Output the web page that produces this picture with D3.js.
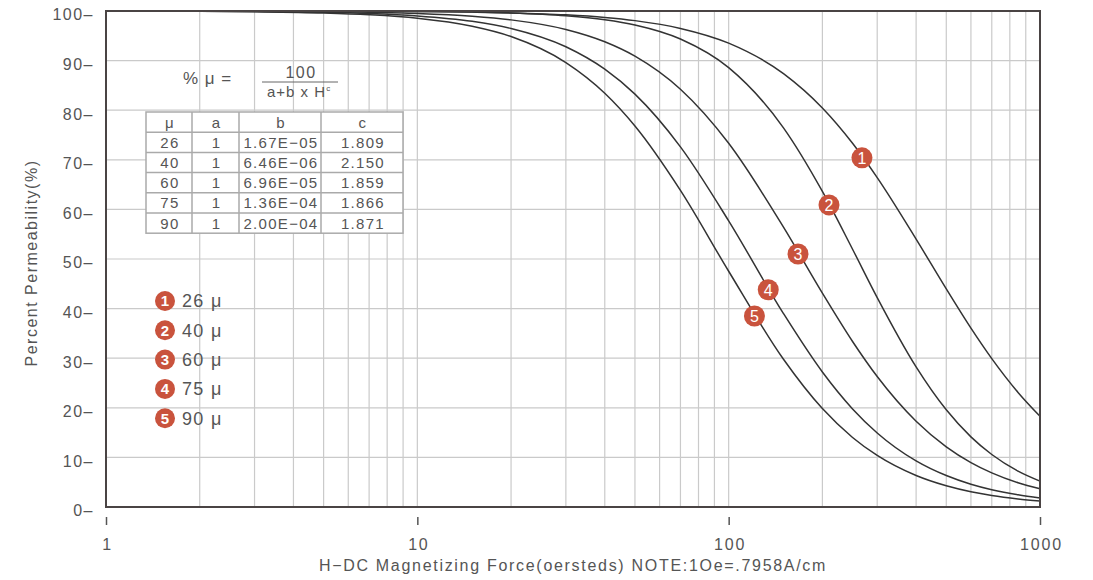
<!DOCTYPE html>
<html lang="en">
	<head>
		<meta charset="utf-8">
		<title>Percent Permeability vs DC Magnetizing Force</title>
		<script type="text/javascript" src="https://d3js.org/d3.v7.min.js"></script>
		<style type="text/css">
			body { margin: 0; background: #fff; }
			text { font-family: "Liberation Sans", Arial, sans-serif; fill: #555; }
		</style>
	</head>
	<body>

		<div id="chart"></div>

		<script type="text/javascript">

    // H values (oersteds) where the curves were read
    var hValues = [1, 2, 3, 5, 7, 10, 15, 20, 30, 40, 50, 70, 100, 150, 200, 250, 300, 400, 500, 600, 700, 850, 1000];

    // percent permeability, one list per material
    var mu26 = [100, 100, 99.99, 99.97, 99.95, 99.89, 99.78, 99.62, 99.22, 98.70, 98.06, 96.49, 93.52, 87.38, 80.45, 73.33, 66.41, 54.01, 43.96, 36.05, 29.91, 23.10, 18.29];
    var mu40 = [100, 100, 99.99, 99.98, 99.96, 99.91, 99.78, 99.60, 99.04, 98.23, 97.18, 94.35, 88.58, 76.44, 63.62, 51.97, 42.23, 28.26, 19.60, 14.14, 10.58, 7.23, 5.21];
    var mu60 = [99.99, 99.98, 99.95, 99.86, 99.74, 99.50, 98.94, 98.21, 96.27, 93.79, 90.89, 84.22, 73.33, 56.41, 43.12, 33.37, 26.30, 17.29, 12.13, 8.95, 6.88, 4.89, 3.67];
    var mu75 = [99.99, 99.95, 99.89, 99.73, 99.49, 99.01, 97.92, 96.49, 92.80, 88.28, 83.24, 72.61, 57.69, 39.00, 27.22, 19.78, 14.93, 9.30, 6.34, 4.59, 3.48, 2.45, 1.82];
    var mu90 = [99.98, 99.93, 99.84, 99.60, 99.24, 98.54, 96.92, 94.85, 89.60, 83.42, 76.82, 63.84, 47.53, 29.78, 19.84, 14.02, 10.39, 6.34, 4.27, 3.07, 2.32, 1.63, 1.20];

    var seriesList = [mu26, mu40, mu60, mu75, mu90];
    var seriesNames = ["26 μ", "40 μ", "60 μ", "75 μ", "90 μ"];

    // numbered markers on the curves
    var markerH = [268, 210, 167, 134, 121];
    var markerPct = [70.4, 60.9, 51.0, 43.8, 38.5];

    // formula table
    var tableHead = ["μ", "a", "b", "c"];
    var tableRows = [
      ["26", "1", "1.67E−05", "1.809"],
      ["40", "1", "6.46E−06", "2.150"],
      ["60", "1", "6.96E−05", "1.859"],
      ["75", "1", "1.36E−04", "1.866"],
      ["90", "1", "2.00E−04", "1.871"]
    ];

    var yTicks = [0, 10, 20, 30, 40, 50, 60, 70, 80, 90, 100];
    var xTicks = [1, 10, 100, 1000];

    drawChart();

    function drawChart(){

        var w = 1093;
        var h = 580;
        var left = 106, right = 1040, top = 11, bottom = 507;
        var red = "#c9533d";

        var svg = d3.select("#chart")
            .append("svg")
            .attr("width", w)
            .attr("height", h);

        var xScale = d3.scaleLog()
          .domain([1, 1000])
          .range([left, right]);

        var yScale = d3.scaleLinear()
          .domain([0, 100])
          .range([bottom, top]);

        // grid
        var minor = [];
        [1, 10, 100].forEach(function(dec){
          for (var k = 2; k <= 9; k++) minor.push(dec * k);
        });
        minor.push(10, 100);

        svg.append("g").selectAll("line")
          .data(minor)
          .enter()
          .append("line")
          .attr("x1", function(d){ return xScale(d); })
          .attr("x2", function(d){ return xScale(d); })
          .attr("y1", top)
          .attr("y2", bottom)
          .style("stroke", "#cacaca")
          .style("stroke-width", 1.2);

        svg.append("g").selectAll("line")
          .data(yTicks.slice(1, -1))
          .enter()
          .append("line")
          .attr("x1", left)
          .attr("x2", right)
          .attr("y1", function(d){ return yScale(d); })
          .attr("y2", function(d){ return yScale(d); })
          .style("stroke", "#cacaca")
          .style("stroke-width", 1.2);

        // curves
        var line = d3.line()
          .x(function(d){ return xScale(d[0]); })
          .y(function(d){ return yScale(d[1]); })
          .curve(d3.curveMonotoneX);

        seriesList.forEach(function(s){
          svg.append("path")
            .datum(hValues.map(function(hv, i){ return [hv, s[i]]; }))
            .attr("d", line)
            .style("fill", "none")
            .style("stroke", "#333")
            .style("stroke-width", 1.5);
        });

        // frame
        svg.append("rect")
          .attr("x", left)
          .attr("y", top)
          .attr("width", right - left)
          .attr("height", bottom - top)
          .style("fill", "none")
          .style("stroke", "#4a4444")
          .style("stroke-width", 2);

        // y axis
        var yAxis = d3.axisLeft(yScale)
          .tickValues(yTicks)
          .tickSize(0)
          .tickPadding(12)
          .tickFormat(function(d){ return d + "–"; });

        var gy = svg.append("g")
          .attr("transform", "translate(" + left + ",0)")
          .call(yAxis);
        gy.select(".domain").remove();
        gy.selectAll("text")
          .attr("dy", "0.55em")
          .style("font-size", "16px")
          .style("letter-spacing", "1.5px")
          .style("fill", "#555");

        // x axis
        var xAxis = d3.axisBottom(xScale)
          .tickValues(xTicks)
          .tickSize(8)
          .tickPadding(14)
          .tickFormat(d3.format("d"));

        var gx = svg.append("g")
          .attr("transform", "translate(0," + (bottom + 10) + ")")
          .call(xAxis);
        gx.select(".domain").remove();
        gx.selectAll("line").style("stroke", "#555").style("stroke-width", 1.5);
        gx.selectAll("text")
          .attr("x", 1)
          .style("font-size", "16px")
          .style("letter-spacing", "1.8px")
          .style("fill", "#555");

        svg.append("text")
          .attr("x", (left + right) / 2)
          .attr("y", 571)
          .attr("text-anchor", "middle")
          .style("font-size", "16px")
          .style("letter-spacing", "1.7px")
          .text("H−DC Magnetizing Force(oersteds) NOTE:1Oe=.7958A/cm");

        svg.append("text")
          .attr("transform", "translate(37," + ((top + bottom) / 2 + 4) + ") rotate(-90)")
          .attr("text-anchor", "middle")
          .style("font-size", "16px")
          .style("letter-spacing", "1.5px")
          .text("Percent Permeability(%)");

        // formula
        svg.append("text")
          .attr("x", 183)
          .attr("y", 84)
          .style("font-size", "17px")
          .style("letter-spacing", "1px")
          .text("% μ =");

        svg.append("text")
          .attr("x", 301)
          .attr("y", 78)
          .attr("text-anchor", "middle")
          .style("font-size", "16px")
          .style("letter-spacing", "1.5px")
          .text("100");

        svg.append("line")
          .attr("x1", 262).attr("x2", 338)
          .attr("y1", 82).attr("y2", 82)
          .style("stroke", "#666")
          .style("stroke-width", 1);

        var den = svg.append("text")
          .attr("x", 267)
          .attr("y", 97)
          .style("font-size", "15px")
          .style("letter-spacing", "1px");
        den.append("tspan").text("a+b x H");
        den.append("tspan").attr("dy", -6).style("font-size", "8px").text("c");

        // table
        var colX = [146, 192, 239, 321, 403];
        var rowY0 = 112, rowH = 20.2;
        var tbl = svg.append("g");
        var allRows = [tableHead].concat(tableRows);

        tbl.append("rect")
          .attr("x", colX[0]).attr("y", rowY0)
          .attr("width", colX[4] - colX[0])
          .attr("height", rowH * allRows.length)
          .style("fill", "#fff")
          .style("stroke", "#aaa")
          .style("stroke-width", 1.5);

        allRows.forEach(function(row, r){
          if (r > 0) {
            tbl.append("line")
              .attr("x1", colX[0]).attr("x2", colX[4])
              .attr("y1", rowY0 + r * rowH).attr("y2", rowY0 + r * rowH)
              .style("stroke", "#aaa").style("stroke-width", 1.5);
          }
          row.forEach(function(cell, c){
            tbl.append("text")
              .attr("x", (colX[c] + colX[c + 1]) / 2 + 1)
              .attr("y", rowY0 + r * rowH + rowH / 2)
              .attr("dy", "0.36em")
              .attr("text-anchor", "middle")
              .style("font-size", "15px")
              .style("letter-spacing", "1.3px")
              .text(cell);
          });
        });
        [1, 2, 3].forEach(function(c){
          tbl.append("line")
            .attr("x1", colX[c]).attr("x2", colX[c])
            .attr("y1", rowY0).attr("y2", rowY0 + rowH * allRows.length)
            .style("stroke", "#aaa").style("stroke-width", 1.5);
        });

        // legend
        var legend = svg.append("g").selectAll("g")
          .data(seriesNames)
          .enter()
          .append("g")
          .attr("transform", function(d, i){ return "translate(165," + (301 + i * 29.3) + ")"; });

        legend.append("circle")
          .attr("r", 10)
          .style("fill", red);
        legend.append("text")
          .attr("text-anchor", "middle")
          .attr("dy", "0.36em")
          .style("font-size", "15px")
          .style("font-weight", "bold")
          .style("fill", "#fff")
          .text(function(d, i){ return i + 1; });
        legend.append("text")
          .attr("x", 17)
          .attr("dy", "0.36em")
          .style("font-size", "18px")
          .style("letter-spacing", "1.3px")
          .style("fill", "#555")
          .text(function(d){ return d; });

        // markers on curves
        var marks = svg.append("g").selectAll("g")
          .data(markerH)
          .enter()
          .append("g")
          .attr("transform", function(d, i){ return "translate(" + xScale(d) + "," + yScale(markerPct[i]) + ")"; });

        marks.append("circle")
          .attr("r", 10.5)
          .style("fill", red);
        marks.append("text")
          .attr("text-anchor", "middle")
          .attr("dy", "0.36em")
          .style("font-size", "16px")
          .style("fill", "#fff")
          .text(function(d, i){ return i + 1; });
    }

		</script>
	</body>
</html>
